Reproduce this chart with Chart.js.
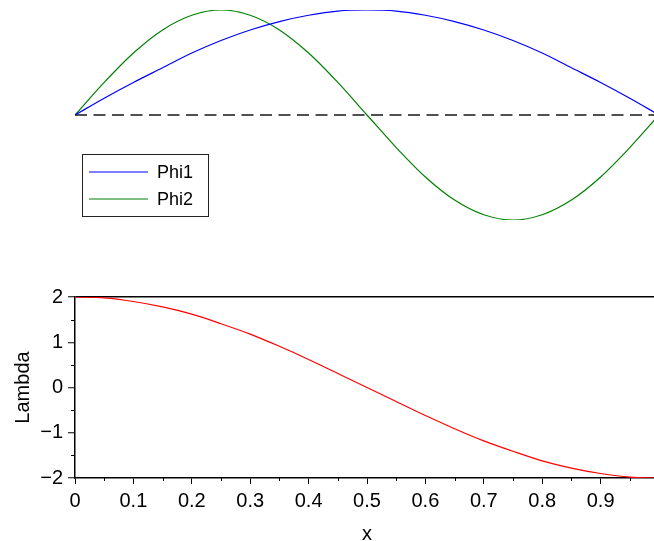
<!DOCTYPE html>
<html lang="en">
<head>
  <meta charset="UTF-8">
  <title>Phi / Lambda</title>
  <script src="https://cdn.jsdelivr.net/npm/chart.js"></script>
  <style>
    html, body {
      margin: 0;
      padding: 0;
      width: 654px;
      height: 541px;
      overflow: hidden;
      background: #fff;
    }
    .box {
      position: absolute;
      left: 0;
      width: 700px;
    }
    #topBox { top: 0; height: 240px; }
    #bottomBox { top: 280px; height: 280px; }
  </style>
</head>
<body>
<div class="box" id="topBox"><canvas id="phiChart"></canvas></div>
<div class="box" id="bottomBox"><canvas id="lambdaChart"></canvas></div>

<script>
  const FONT = '"Liberation Sans", Arial, Helvetica, sans-serif';

  // sample positions along x
  const xs = [0, 0.05, 0.1, 0.15, 0.2, 0.25, 0.3, 0.35, 0.4, 0.45, 0.5,
              0.55, 0.6, 0.65, 0.7, 0.75, 0.8, 0.85, 0.9, 0.95, 1];

  const phi1 = [0, 0.16, 0.31, 0.45, 0.59, 0.71, 0.81, 0.89, 0.95, 0.99, 1.00,
                0.99, 0.95, 0.89, 0.81, 0.71, 0.59, 0.45, 0.31, 0.16, 0];

  const phi2 = [0, 0.31, 0.59, 0.81, 0.95, 1.00, 0.95, 0.81, 0.59, 0.31, 0,
                -0.31, -0.59, -0.81, -0.95, -1.00, -0.95, -0.81, -0.59, -0.31, 0];

  const lambda = [2, 1.98, 1.90, 1.78, 1.62, 1.41, 1.18, 0.91, 0.62, 0.31, 0,
                  -0.31, -0.62, -0.91, -1.18, -1.41, -1.62, -1.78, -1.90, -1.98, -2];

  const baseline = [0, 0];
  const baselineX = [0, 1];

  const yTicks = [-2, -1, 0, 1, 2];
  const xMinor = [0.05, 0.15, 0.25, 0.35, 0.45, 0.55, 0.65, 0.75, 0.85, 0.95];
  const yMinor = [-1.5, -0.5, 0.5, 1.5];

  const toPoints = (xv, yv) => xv.map((x, i) => ({ x: x, y: yv[i] }));

  // boxed legend in the lower left of the top panel
  const boxLegend = {
    id: 'boxLegend',
    afterDraw(chart) {
      const c = chart.ctx;
      const items = chart.data.datasets.filter(d => d.label);
      c.save();
      c.strokeStyle = '#222';
      c.lineWidth = 1;
      c.strokeRect(82.5, 154.5, 126, 62);
      c.font = '18px ' + FONT;
      c.textBaseline = 'middle';
      c.fillStyle = '#000';
      items.forEach((d, i) => {
        const y = 172 + i * 27;
        c.strokeStyle = d.borderColor;
        c.lineWidth = 1.2;
        c.beginPath();
        c.moveTo(89, y);
        c.lineTo(148, y);
        c.stroke();
        c.fillText(d.label, 157, y + 1);
      });
      c.restore();
    }
  };

  new Chart(document.getElementById('phiChart'), {
    type: 'line',
    data: {
      datasets: [
        {
          label: 'Phi1',
          data: toPoints(xs, phi1),
          borderColor: 'rgb(0, 0, 255)',
          borderWidth: 1.2,
          pointRadius: 0,
          cubicInterpolationMode: 'monotone',
          fill: false,
        },
        {
          label: 'Phi2',
          data: toPoints(xs, phi2),
          borderColor: 'rgb(0, 128, 0)',
          borderWidth: 1.2,
          pointRadius: 0,
          cubicInterpolationMode: 'monotone',
          fill: false,
        },
        {
          data: toPoints(baselineX, baseline),
          borderColor: '#505050',
          borderWidth: 2,
          borderDash: [12, 6.5],
          pointRadius: 0,
          fill: false,
        }
      ]
    },
    options: {
      responsive: true,
      maintainAspectRatio: false,
      animation: false,
      layout: { padding: { left: 75, right: 41, top: 10, bottom: 20 } },
      scales: {
        x: { type: 'linear', min: 0, max: 1, display: false },
        y: { min: -1, max: 1, display: false }
      },
      plugins: {
        legend: { display: false },
        tooltip: { enabled: false }
      }
    },
    plugins: [boxLegend]
  });

  // short minor ticks on both axes of the lower panel
  const minorTicks = {
    id: 'minorTicks',
    afterDraw(chart) {
      const c = chart.ctx;
      const xs_ = chart.scales.x, ys_ = chart.scales.y;
      const area = chart.chartArea;
      c.save();
      c.strokeStyle = '#000';
      c.lineWidth = 1;
      xMinor.forEach(v => {
        const px = Math.round(xs_.getPixelForValue(v)) + 0.5;
        c.beginPath();
        c.moveTo(px, area.bottom);
        c.lineTo(px, area.bottom + 3);
        c.stroke();
      });
      yMinor.forEach(v => {
        const py = Math.round(ys_.getPixelForValue(v)) + 0.5;
        c.beginPath();
        c.moveTo(area.left - 4, py);
        c.lineTo(area.left, py);
        c.stroke();
      });
      c.restore();
    }
  };

  new Chart(document.getElementById('lambdaChart'), {
    type: 'line',
    data: {
      datasets: [
        {
          label: 'Lambda',
          data: toPoints(xs, lambda),
          borderColor: 'rgb(255, 0, 0)',
          borderWidth: 1.2,
          pointRadius: 0,
          cubicInterpolationMode: 'monotone',
          fill: false,
        }
      ]
    },
    options: {
      responsive: true,
      maintainAspectRatio: false,
      animation: false,
      layout: { padding: { left: 0, right: 41, top: 15, bottom: 0 } },
      scales: {
        x: {
          type: 'linear',
          min: 0,
          max: 1,
          afterFit: s => { s.height = 82; },
          border: { display: true, color: '#000', width: 1.5 },
          grid: {
            drawOnChartArea: false,
            color: '#000',
            tickLength: 6,
          },
          ticks: {
            stepSize: 0.1,
            padding: 5.5,
            color: '#000',
            font: { family: FONT, size: 20 },
            maxRotation: 0,
            autoSkip: false,
            callback: v => (v === 0 || v === 1) ? String(v) : v.toFixed(1)
          },
          title: {
            display: true,
            text: 'x',
            color: '#000',
            font: { family: FONT, size: 20 },
            padding: { top: 0, bottom: 14 }
          }
        },
        y: {
          min: -2,
          max: 2,
          afterFit: s => { s.width = 75; },
          afterBuildTicks: s => { s.ticks = yTicks.map(v => ({ value: v })); },
          border: { display: true, color: '#000', width: 1.5 },
          grid: {
            // only the line at the top of the range is drawn across the plot
            color: ctx => (ctx.tick && ctx.tick.value === 2) ? '#000' : 'rgba(0,0,0,0)',
            lineWidth: 1.5,
            tickColor: '#000',
            tickWidth: 1,
            tickLength: 7,
          },
          ticks: {
            padding: 5,
            color: '#000',
            font: { family: FONT, size: 20 },
            callback: v => v < 0 ? '\u2212' + Math.abs(v) : String(v)
          },
          title: {
            display: true,
            text: 'Lambda',
            color: '#000',
            font: { family: FONT, size: 20 },
            padding: { top: 11.5, bottom: 0 }
          }
        }
      },
      plugins: {
        legend: { display: false },
        tooltip: { enabled: false }
      }
    },
    plugins: [minorTicks]
  });
</script>
</body>
</html>
